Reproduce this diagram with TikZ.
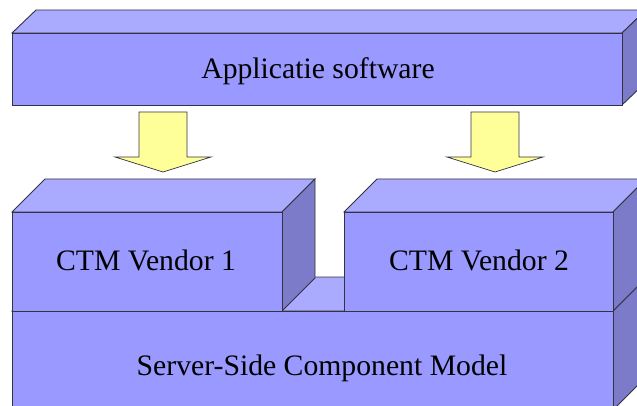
\documentclass[tikz,border=0pt]{standalone}
\usepackage{fontspec}
\setmainfont{Liberation Serif}
\definecolor{facefront}{HTML}{9999FF}
\definecolor{facetop}{HTML}{AAAAFF}
\definecolor{faceside}{HTML}{7B7BCA}
\definecolor{arrowfill}{HTML}{FFFF99}
\definecolor{edge}{HTML}{333340}
\tikzset{
  front/.style={fill=facefront, draw=edge, line width=0.9pt, line join=miter},
  topface/.style={fill=facetop, draw=edge, line width=0.9pt, line join=miter},
  sideface/.style={fill=faceside, draw=edge, line width=0.9pt, line join=miter},
  blockarrow/.style={fill=arrowfill, draw=edge, line width=0.7pt, line join=miter},
  caption/.style={anchor=base, inner sep=0pt, font=\fontsize{29.7}{35}\selectfont, text=black}
}
\begin{document}
\begin{tikzpicture}[x=1pt, y=-1pt]
  \useasboundingbox (0,0) rectangle (637,406);
  \clip (0,0) rectangle (637,406);

  % application layer (slab on top)
  \draw[topface]  (12,33) -- (36,10) -- (646,10) -- (622,33) -- cycle;
  \draw[sideface] (622,33) -- (646,10) -- (646,82) -- (622,105) -- cycle;
  \draw[front]    (12,33) rectangle (622,105);
  \node[caption] (app) at (318,79) {Applicatie software};

  % block arrows pointing down to the vendors
  \draw[blockarrow] (139,112) -- (187,112) -- (187,157) -- (211,157)
                    -- (163,172) -- (115,157) -- (139,157) -- cycle;
  \draw[blockarrow] (471,112) -- (519,112) -- (519,157) -- (543,157)
                    -- (495,172) -- (447,157) -- (471,157) -- cycle;

  % server-side component model (base block)
  \draw[topface]  (12,311) -- (46,277) -- (647,277) -- (613,311) -- cycle;
  \draw[sideface] (613,311) -- (647,277) -- (647,376) -- (613,410) -- cycle;
  \draw[front]    (12,311) rectangle (613,410);
  \node[caption] (server) at (322,375) {Server-Side Component Model};

  % vendor 1 block
  \draw[topface]  (12,212) -- (45,179) -- (315,179) -- (282,212) -- cycle;
  \draw[sideface] (282,212) -- (315,179) -- (315,278) -- (282,311) -- cycle;
  \draw[front]    (12,212) rectangle (282,311);
  \node[caption] (vendorA) at (146,270) {CTM Vendor 1};

  % vendor 2 block
  \draw[topface]  (344,212) -- (377,179) -- (646,179) -- (613,212) -- cycle;
  \draw[sideface] (613,212) -- (646,179) -- (646,278) -- (613,311) -- cycle;
  \draw[front]    (344,212) rectangle (613,311);
  \node[caption] (vendorB) at (479,270) {CTM Vendor 2};
\end{tikzpicture}
\end{document}
